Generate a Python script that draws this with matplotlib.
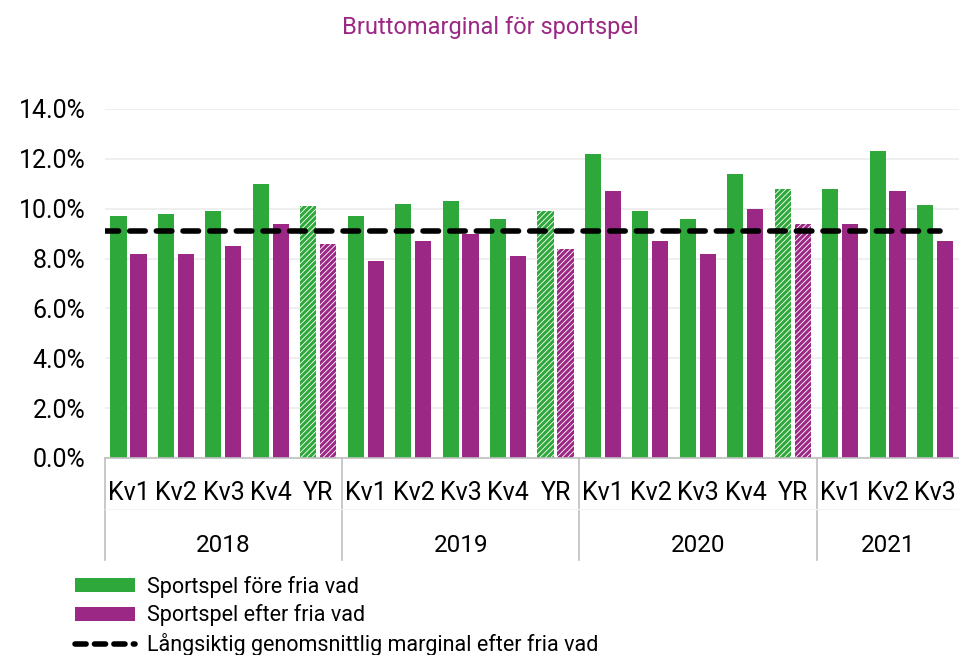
import matplotlib.pyplot as plt
import matplotlib.transforms as mtransforms
from matplotlib.patches import Patch
from matplotlib.lines import Line2D

plt.rcParams['font.family'] = ['Roboto', 'DejaVu Sans']
plt.rcParams['hatch.linewidth'] = 2.2

# data (percent)
years = ['2018', '2019', '2020', '2021']
periods = [['Kv1', 'Kv2', 'Kv3', 'Kv4', 'YR'],
           ['Kv1', 'Kv2', 'Kv3', 'Kv4', 'YR'],
           ['Kv1', 'Kv2', 'Kv3', 'Kv4', 'YR'],
           ['Kv1', 'Kv2', 'Kv3']]
fore = [9.7, 9.8, 9.9, 11.0, 10.1,
        9.7, 10.2, 10.3, 9.6, 9.9,
        12.2, 9.9, 9.6, 11.4, 10.8,
        10.8, 12.3, 10.15]
efter = [8.2, 8.2, 8.5, 9.4, 8.6,
         7.9, 8.7, 9.0, 8.1, 8.4,
         10.7, 8.7, 8.2, 10.0, 9.4,
         9.4, 10.7, 8.7]
long_avg = 9.1

green = '#2ea83a'
purple = '#9b2884'

labels = [p for grp in periods for p in grp]

fig = plt.figure(figsize=(9.59, 6.55), dpi=100)
ax = fig.add_axes([0.1095, 0.3008, 0.8905, 0.5328])

w = 0.34
for i, lab in enumerate(labels):
    if lab == 'YR':
        ax.bar(i - 0.215, fore[i], w, facecolor='white', edgecolor=green,
               hatch='//////', linewidth=0, zorder=2)
        ax.bar(i + 0.205, efter[i], w, facecolor='white', edgecolor=purple,
               hatch='//////', linewidth=0, zorder=2)
    else:
        ax.bar(i - 0.215, fore[i], w, color=green, zorder=2)
        ax.bar(i + 0.205, efter[i], w, color=purple, zorder=2)

ax.plot([-0.55, 17.1], [long_avg, long_avg], color='black', lw=4,
        dashes=(2.8, 2.0), solid_capstyle='round', dash_capstyle='round', zorder=3)

ax.set_xlim(-0.5, len(labels) - 0.5)
ax.set_ylim(0, 14)
ax.set_yticks([0, 2, 4, 6, 8, 10, 12, 14])
ax.set_yticklabels([f'{v:.1f}%' for v in range(0, 15, 2)], fontsize=18)
ax.tick_params(axis='y', length=0, pad=14)
ax.set_xticks([])
ax.grid(axis='y', color='#ececec', lw=1.2, zorder=0)
for s in ['top', 'right', 'left']:
    ax.spines[s].set_visible(False)
ax.spines['bottom'].set_color('#bfbfbf')
ax.spines['bottom'].set_linewidth(1.2)

trans = mtransforms.blended_transform_factory(ax.transData, ax.transAxes)
for i, lab in enumerate(labels):
    ax.text(i, -0.1, lab, transform=trans, ha='center', va='center', fontsize=18)

start = 0
bounds = [-0.5]
for yr, grp in zip(years, periods):
    mid = start + (len(grp) - 1) / 2
    ax.text(mid, -0.25, yr, transform=trans, ha='center', va='center', fontsize=17.5)
    start += len(grp)
    bounds.append(start - 0.5)
for b in bounds[:-1]:
    ax.plot([b, b], [0, -0.292], transform=trans, color='#bfbfbf', lw=1.2,
            clip_on=False)
ax.plot([-0.5, len(labels) - 0.5], [-0.145, -0.145], transform=trans,
        color='#f4f4f4', lw=0.8, clip_on=False)

fig.text(0.511, 0.958, 'Bruttomarginal för sportspel', ha='center', va='center',
         fontsize=17, color=purple)

handles = [Patch(facecolor=green, edgecolor='none'),
           Patch(facecolor=purple, edgecolor='none'),
           Line2D([0], [0], color='black', lw=4, dashes=(2.0, 1.5),
                  dash_capstyle='round')]
fig.legend(handles, ['Sportspel före fria vad', 'Sportspel efter fria vad',
                     'Långsiktig genomsnittlig marginal efter fria vad'],
           loc='upper left', bbox_to_anchor=(0.078, 0.121), frameon=False,
           fontsize=15.5, handlelength=2.8, handleheight=0.62, handletextpad=0.55,
           labelspacing=0.31, borderpad=0, borderaxespad=0)

fig.savefig('out.png', dpi=100)
